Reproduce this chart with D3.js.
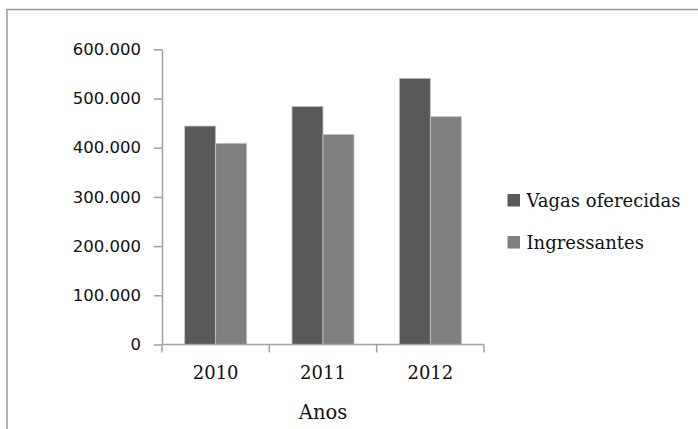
<!DOCTYPE html>
<html>
<head>
<meta charset="utf-8">
<script src="https://cdn.jsdelivr.net/npm/d3@7"></script>
<style>
  html, body { margin: 0; padding: 0; background: #fff; }
  svg { display: block; }
</style>
</head>
<body>
<svg id="chart" width="698" height="429"></svg>
<script>
// Vagas oferecidas x ingressantes, 2010–2012
const years = ["2010", "2011", "2012"];
const seriesNames = ["Vagas oferecidas", "Ingressantes"];
const vagas = [444000, 484000, 541000];
const ingressantes = [409000, 427000, 463000];
const yTicks = [0, 100000, 200000, 300000, 400000, 500000, 600000];
const axisTitle = "Anos";
const colors = ["#595959", "#7f7f7f"];

const series = [vagas, ingressantes];
const rows = years.map((yr, i) => ({ year: yr, values: series.map(s => s[i]) }));

const svg = d3.select("#chart");

// frame around the chart area (top and left edges)
svg.append("path")
  .attr("d", "M7,429 V9.5 H698")
  .attr("fill", "none")
  .attr("stroke", "#9a9a9a")
  .attr("stroke-width", 1.5);

const plot = { left: 162, right: 484, top: 49.3, bottom: 344.5 };

const y = d3.scaleLinear().domain([0, 600000]).range([plot.bottom, plot.top]);
const x = d3.scaleBand().domain(years).range([plot.left, plot.right]).padding(0);
const groupFrac = 0.578;
const xs = d3.scaleBand().domain(d3.range(series.length))
  .range([0, x.bandwidth() * groupFrac]).padding(0);
const groupOffset = x.bandwidth() * (1 - groupFrac) / 2;

const ptBR = d3.formatLocale({ decimal: ",", thousands: ".", grouping: [3], currency: ["R$", ""] });
const fmt = ptBR.format(",d");

const axisColor = "#a0a0a0";

// y axis
const yAxis = svg.append("g")
  .attr("transform", `translate(${plot.left},0)`)
  .call(d3.axisLeft(y).tickValues(yTicks).tickFormat(fmt).tickSizeOuter(0).tickSizeInner(8).tickPadding(13));
yAxis.select(".domain").attr("stroke", axisColor).attr("stroke-width", 1.5);
yAxis.selectAll(".tick line").attr("stroke", axisColor).attr("stroke-width", 1.5);
yAxis.selectAll(".tick text")
  .attr("font-family", "'DejaVu Sans', Verdana, sans-serif")
  .attr("font-size", 16.5)
  .attr("fill", "#111");

// bars
const groups = svg.append("g").selectAll("g")
  .data(rows).join("g")
  .attr("transform", d => `translate(${x(d.year) + groupOffset},0)`);

groups.selectAll("rect")
  .data(d => d.values.map((v, k) => ({ k, v })))
  .join("rect")
  .attr("x", d => xs(d.k))
  .attr("width", xs.bandwidth())
  .attr("y", d => y(d.v))
  .attr("height", d => y(0) - y(d.v))
  .attr("fill", d => colors[d.k])
  .attr("stroke", "#c4c4c4")
  .attr("stroke-width", 0.8);

// x axis line and category boundary ticks
const xAxis = svg.append("g")
  .attr("transform", `translate(0,${plot.bottom})`)
  .call(d3.axisBottom(x).tickSize(0).tickPadding(22));
xAxis.select(".domain").remove();
xAxis.append("line")
  .attr("x1", plot.left).attr("x2", plot.right)
  .attr("stroke", axisColor).attr("stroke-width", 1.5);
const bounds = years.map(d => x(d)).concat([x(years[years.length - 1]) + x.bandwidth()]);
xAxis.selectAll(".bound").data(bounds).join("line")
  .attr("class", "bound")
  .attr("x1", d => d).attr("x2", d => d)
  .attr("y1", 0).attr("y2", 8)
  .attr("stroke", axisColor).attr("stroke-width", 1.5);
xAxis.selectAll(".tick text")
  .attr("font-family", "'DejaVu Serif', serif")
  .attr("font-size", 18)
  .attr("fill", "#111");

// axis title
svg.append("text")
  .attr("x", (plot.left + plot.right) / 2)
  .attr("y", 419)
  .attr("text-anchor", "middle")
  .attr("font-family", "'DejaVu Serif', serif")
  .attr("font-size", 19.5)
  .attr("fill", "#111")
  .text(axisTitle);

// legend
const legend = svg.append("g").attr("transform", "translate(507.5,194)");
const item = legend.selectAll("g").data(seriesNames).join("g")
  .attr("transform", (d, i) => `translate(0,${i * 42})`);
item.append("rect")
  .attr("width", 12.5).attr("height", 12.5)
  .attr("fill", (d, i) => colors[i]);
item.append("text")
  .attr("x", 19)
  .attr("y", 12.5)
  .attr("font-family", "'DejaVu Serif', serif")
  .attr("font-size", 18)
  .attr("fill", "#111")
  .text(d => d);
</script>
</body>
</html>
